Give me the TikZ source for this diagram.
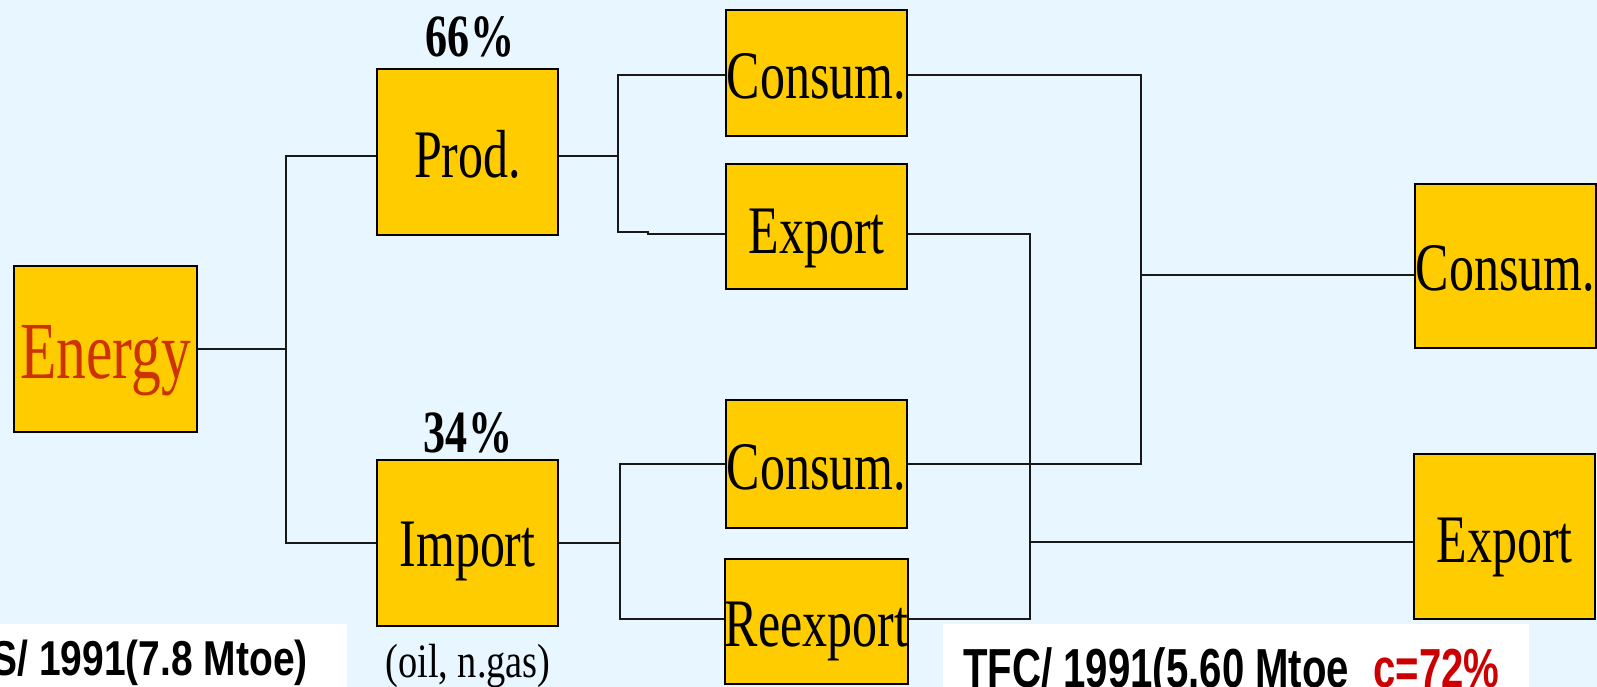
\documentclass[tikz,border=0pt]{standalone}
\usepackage{fontspec}
\usetikzlibrary{calc}
\newfontfamily\bxfont[FakeStretch=0.735]{Liberation Serif}
\newfontfamily\smfont[FakeStretch=0.8]{Liberation Serif}
\newfontfamily\lbfont[FakeStretch=0.795]{Liberation Sans}
\newfontfamily\lbfontb[FakeStretch=0.73]{Liberation Sans}
\definecolor{bgblue}{HTML}{E8F6FF}
\definecolor{boxyel}{HTML}{FFCC00}
\definecolor{energyred}{HTML}{CC3300}
\definecolor{cred}{HTML}{CC0000}
\begin{document}
\begin{tikzpicture}[x=1pt,y=-1pt,
  box/.style={draw=black, line width=2.4pt, fill=boxyel, inner sep=0pt,
    minimum width=181pt, font={\bxfont\fontsize{68}{70}\selectfont}},
  conn/.style={draw=black!90, line width=2.2pt},
  pct/.style={font={\bxfont\bfseries\fontsize{60}{62}\selectfont}, anchor=base, inner sep=0pt},
]
\useasboundingbox (0,0) rectangle (1597,687);
\clip (0,0) rectangle (1597,687);
\fill[bgblue] (0,0) rectangle (1597,687);
\fill[white] (0,624) rectangle (347,687);
\fill[white] (943,624) rectangle (1529,687);

% boxes
\node[box, minimum width=183pt, text height=112pt, text depth=54pt,
  font={\bxfont\fontsize{81}{83}\selectfont}, text=energyred] (energy) at (105.5,349) {Energy};
\node[box, text height=109pt, text depth=57pt] (prod) at (467.5,152) {Prod.};
\node[box, text height=106pt, text depth=60pt] (import) at (467.5,543) {Import};
\node[box, text height=89pt, text depth=37pt] (consum1) at (816.5,73) {Consum.};
\node[box, text height=89pt, text depth=36pt] (export1) at (816.5,226.5) {Export};
\node[box, text height=89pt, text depth=39pt] (consum2) at (816.5,464) {Consum.};
\node[box, text height=87pt, text depth=38pt] (reexport) at (816.5,621.5) {Reexport};
\node[box, text height=106pt, text depth=58pt] (rconsum) at (1505.5,266) {Consum.};
\node[box, text height=108pt, text depth=57pt] (rexport) at (1504.5,536.5) {Export};

% labels
\node[pct] (p66) at (470,57) {66\%};
\node[pct] (p34) at (468,452) {34\%};
\node[anchor=base, inner sep=0pt, font={\smfont\fontsize{48}{50}\selectfont}] (oil) at (468,677) {(oil, n.gas)};
\node[anchor=base east, inner sep=0pt, font={\lbfont\bfseries\fontsize{49}{50}\selectfont}] (tpes) at (308,675) {S/ 1991(7.8 Mtoe)};
\node[anchor=base west, inner sep=0pt, font={\lbfontb\bfseries\fontsize{55}{56}\selectfont}] (tfc) at (963,687) {TFC/ 1991(5.60 Mtoe\hspace{24pt}\textcolor{cred}{c=72\%}};

% junction coordinates
\coordinate (jE) at (286,349);
\coordinate (jP) at (618,156);
\coordinate (jPb) at (618,232);
\coordinate (jPs) at (648,232);
\coordinate (jPt) at (648,234);
\coordinate (jI) at (620,543);
\coordinate (jC) at (1141,275);
\coordinate (jX) at (1030,542);

% connectors
\draw[conn] (energy.east) -- (jE);
\draw[conn] ($(prod.west)+(0,4)$) -| (jE) |- (import.west);
\draw[conn] ($(prod.east)+(0,4)$) -- (jP);
\draw[conn] ($(consum1.west)+(0,2)$) -| (jP) -- (jPb) -- (jPs) -- (jPt) -- ($(export1.west)+(0,7.5)$);
\draw[conn] (import.east) -- (jI);
\draw[conn] (consum2.west) -| (jI) |- ($(reexport.west)+(0,-2.5)$);
\draw[conn] ($(consum1.east)+(0,2)$) -| (jC) |- (consum2.east);
\draw[conn] (jC) -- ($(rconsum.west)+(0,9)$);
\draw[conn] ($(export1.east)+(0,7.5)$) -| (jX) |- ($(reexport.east)+(0,-2.5)$);
\draw[conn] (jX) -- ($(rexport.west)+(0,5.5)$);
\end{tikzpicture}
\end{document}
